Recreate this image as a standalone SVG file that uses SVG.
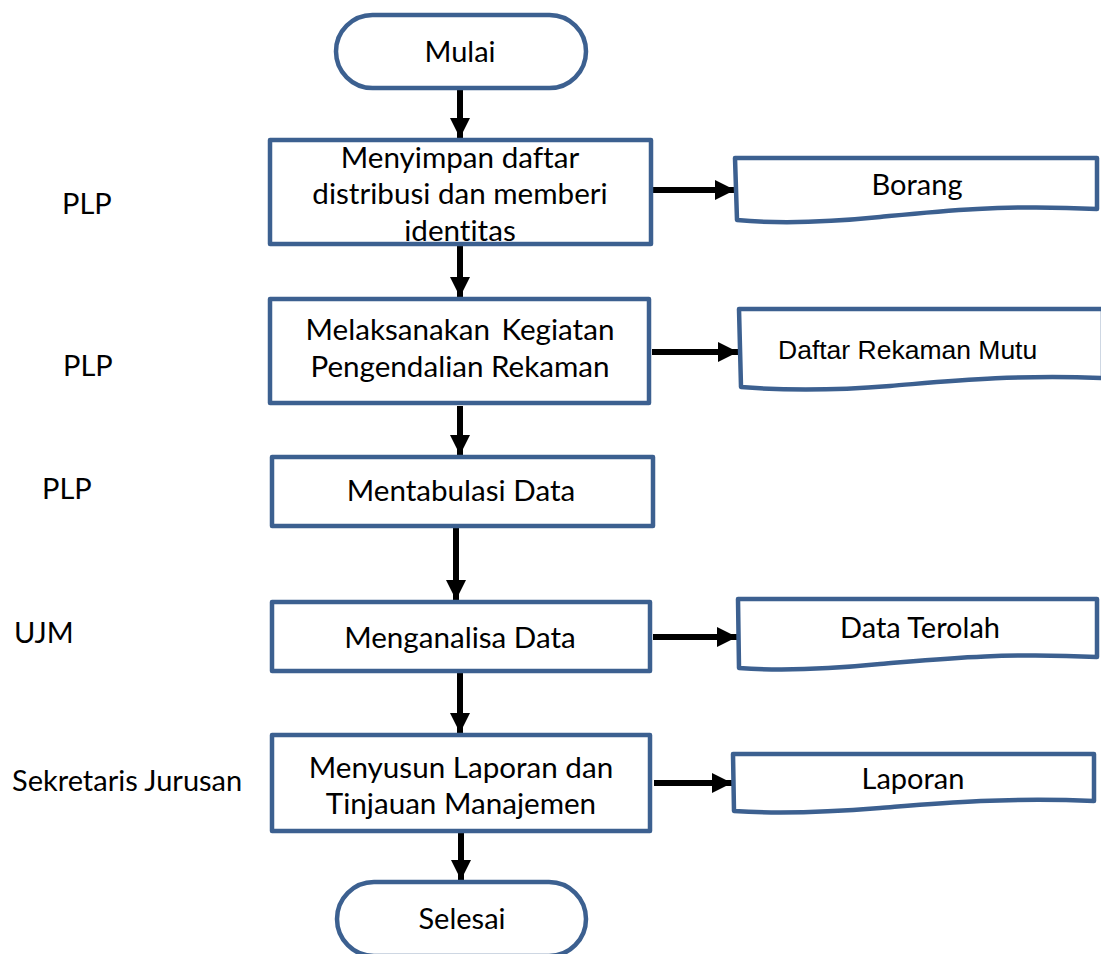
<svg xmlns="http://www.w3.org/2000/svg" width="1101" height="954" viewBox="0 0 1101 954">
<style>
.shape{fill:#fff;stroke:#3C6090;stroke-width:4.5;stroke-linejoin:round}
.t{font-family:Lato,"Open Sans","Liberation Sans",sans-serif;font-size:29px;fill:#000;font-variant-ligatures:none}
.b{font-size:29.6px}
.c{text-anchor:middle}
.a{font-family:"Liberation Sans",Arial,sans-serif;font-size:26.5px;fill:#000}
.conn{stroke:#000;stroke-width:6;fill:none}
</style>
<defs>
<marker id="ah" markerUnits="userSpaceOnUse" markerWidth="22" markerHeight="22" refX="20" refY="10" orient="auto">
<path d="M0,0 L20,10 L0,20 Z" fill="#000"/>
</marker>
</defs>
<rect width="1101" height="954" fill="#fff"/>
<g id="labels">
<text class="t" x="62" y="214">PLP</text>
<text class="t" x="63" y="376">PLP</text>
<text class="t" x="42" y="499">PLP</text>
<text class="t" x="14" y="643">UJM</text>
<text class="t" x="12" y="791">Sekretaris Jurusan</text>
</g>
<g id="connectors">
<line class="conn" x1="460" y1="90" x2="460" y2="138" marker-end="url(#ah)"/>
<line class="conn" x1="460" y1="246" x2="460" y2="297" marker-end="url(#ah)"/>
<line class="conn" x1="460" y1="406" x2="460" y2="455" marker-end="url(#ah)"/>
<line class="conn" x1="456" y1="528" x2="456" y2="600" marker-end="url(#ah)"/>
<line class="conn" x1="460" y1="673" x2="460" y2="733" marker-end="url(#ah)"/>
<line class="conn" x1="461" y1="833" x2="461" y2="880" marker-end="url(#ah)"/>
<line class="conn" x1="652" y1="190" x2="735" y2="190" marker-end="url(#ah)"/>
<line class="conn" x1="652" y1="352" x2="738" y2="352" marker-end="url(#ah)"/>
<line class="conn" x1="653" y1="637" x2="737" y2="637" marker-end="url(#ah)"/>
<line class="conn" x1="654" y1="783" x2="732" y2="783" marker-end="url(#ah)"/>
</g>
<g id="mulai">
<rect class="shape" x="336" y="15" width="250" height="73" rx="36.5"/>
<text class="t c" x="460" y="62">Mulai</text>
</g>
<g id="step1">
<rect class="shape" x="270" y="140" width="381" height="104"/>
<text class="t b c" x="460" y="168">Menyimpan daftar</text>
<text class="t b c" x="460" y="204">distribusi dan memberi</text>
<text class="t b c" x="460" y="241">identitas</text>
</g>
<g id="borang">
<path class="shape" d="M735,158 H1097 V209 C1000,204 930,212 880,217 C830,222 780,224 737,220 Z"/>
<text class="t c" x="917" y="195">Borang</text>
</g>
<g id="step2">
<rect class="shape" x="270" y="299" width="379" height="104"/>
<text class="t b c" x="460" y="340" word-spacing="4">Melaksanakan Kegiatan</text>
<text class="t b c" x="460" y="377">Pengendalian Rekaman</text>
</g>
<g id="daftar">
<path class="shape" d="M739,309 H1103 V378 C1010,374 940,382 890,386 C840,390 790,391 741,387 Z"/>
<text class="a" x="778" y="359">Daftar Rekaman Mutu</text>
</g>
<g id="step3">
<rect class="shape" x="272" y="457" width="381" height="69"/>
<text class="t b c" x="461" y="501">Mentabulasi Data</text>
</g>
<g id="step4">
<rect class="shape" x="272" y="602" width="378" height="69"/>
<text class="t b c" x="460" y="648">Menganalisa Data</text>
</g>
<g id="terolah">
<path class="shape" d="M738,599 H1097 V657 C1000,652 930,660 880,664 C830,669 780,671 739,668 Z"/>
<text class="t c" x="920" y="638">Data Terolah</text>
</g>
<g id="step5">
<rect class="shape" x="272" y="735" width="378" height="96"/>
<text class="t b c" x="461" y="778">Menyusun Laporan dan</text>
<text class="t b c" x="461" y="814">Tinjauan Manajemen</text>
</g>
<g id="laporan">
<path class="shape" d="M733,754 H1094 V801 C1000,797 930,804 880,808 C830,812 780,814 734,811 Z"/>
<text class="t c" x="913" y="789">Laporan</text>
</g>
<g id="selesai">
<rect class="shape" x="337" y="882" width="249" height="74" rx="37"/>
<text class="t c" x="462" y="929">Selesai</text>
</g>
</svg>
